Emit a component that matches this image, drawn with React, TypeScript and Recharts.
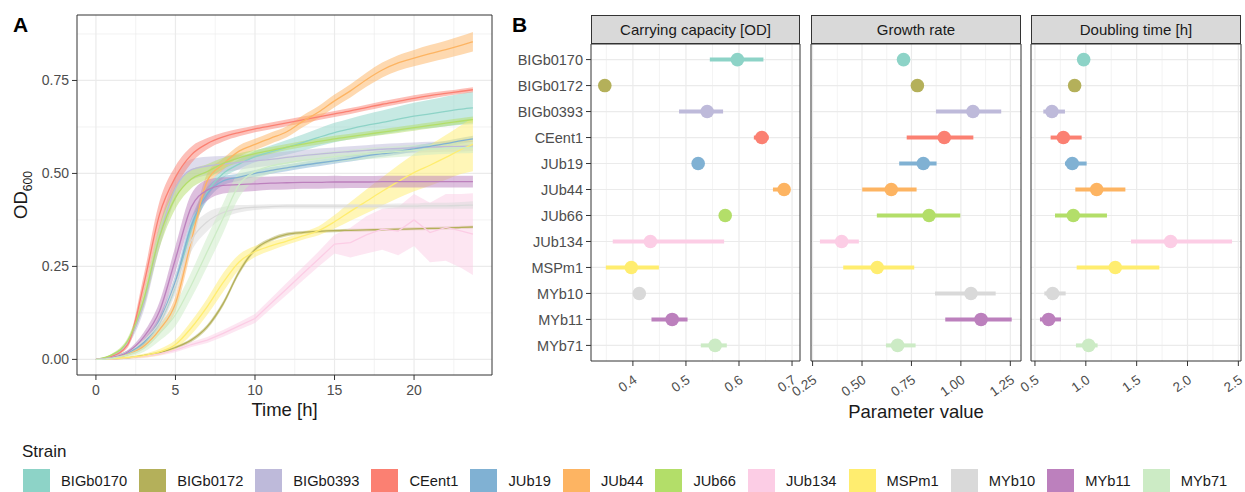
import React from "react"
import {
  Area,
  CartesianGrid,
  ComposedChart,
  ErrorBar,
  Line,
  ReferenceArea,
  Scatter,
  ScatterChart,
  XAxis,
  YAxis,
} from "recharts"

const STRAINS = [
  "BIGb0170", "BIGb0172", "BIGb0393", "CEent1", "JUb19", "JUb44",
  "JUb66", "JUb134", "MSPm1", "MYb10", "MYb11", "MYb71",
]
const COLORS = [
  "#8DD3C7", "#B4B05A", "#BEBADA", "#FB8072", "#80B1D3", "#FDB462",
  "#B3DE69", "#FCCDE5", "#FFED6F", "#D9D9D9", "#BC80BD", "#CCEBC5",
]

// time points of the growth curves [h]
const TIME_H = [0, 1, 2, 3, 4, 5, 6, 7, 8, 9, 10, 11, 12, 13, 14, 15, 16, 17, 18, 19, 20, 21, 22, 23, 23.7]

// mean OD600 and half width of the ribbon per strain
const OD_BIGb0170 = [0, 0.006, 0.02, 0.045, 0.1, 0.2, 0.35, 0.45, 0.5, 0.525, 0.545, 0.558, 0.57, 0.583, 0.597, 0.61, 0.62, 0.629, 0.637, 0.646, 0.654, 0.66, 0.667, 0.673, 0.676]
const SD_BIGb0170 = [0, 0.002, 0.004, 0.006, 0.01, 0.015, 0.02, 0.015, 0.012, 0.013, 0.015, 0.017, 0.02, 0.022, 0.024, 0.026, 0.028, 0.03, 0.032, 0.034, 0.036, 0.038, 0.04, 0.042, 0.044]
const OD_BIGb0172 = [0, 0.001, 0.004, 0.01, 0.018, 0.032, 0.052, 0.088, 0.15, 0.235, 0.295, 0.322, 0.336, 0.341, 0.344, 0.346, 0.347, 0.348, 0.349, 0.35, 0.351, 0.352, 0.353, 0.355, 0.356]
const SD_BIGb0172 = [0, 0.001, 0.002, 0.003, 0.004, 0.004, 0.005, 0.006, 0.007, 0.007, 0.006, 0.005, 0.005, 0.004, 0.004, 0.004, 0.004, 0.004, 0.004, 0.004, 0.004, 0.004, 0.004, 0.004, 0.004]
const OD_BIGb0393 = [0, 0.01, 0.045, 0.15, 0.33, 0.46, 0.51, 0.52, 0.525, 0.53, 0.534, 0.538, 0.543, 0.548, 0.552, 0.556, 0.559, 0.562, 0.565, 0.567, 0.569, 0.571, 0.572, 0.573, 0.574]
const SD_BIGb0393 = [0, 0.003, 0.008, 0.02, 0.03, 0.03, 0.028, 0.025, 0.022, 0.02, 0.018, 0.017, 0.016, 0.015, 0.015, 0.014, 0.014, 0.014, 0.014, 0.014, 0.014, 0.014, 0.014, 0.014, 0.014]
const OD_CEent1 = [0, 0.008, 0.04, 0.2, 0.39, 0.49, 0.55, 0.58, 0.598, 0.61, 0.62, 0.628, 0.636, 0.644, 0.652, 0.66, 0.668, 0.677, 0.686, 0.694, 0.702, 0.709, 0.715, 0.721, 0.725]
const SD_CEent1 = [0, 0.002, 0.008, 0.025, 0.035, 0.03, 0.022, 0.015, 0.012, 0.01, 0.009, 0.009, 0.009, 0.009, 0.008, 0.008, 0.008, 0.008, 0.008, 0.008, 0.008, 0.008, 0.007, 0.007, 0.007]
const OD_JUb19 = [0, 0.005, 0.018, 0.045, 0.105, 0.21, 0.36, 0.445, 0.48, 0.49, 0.5, 0.508, 0.515, 0.522, 0.528, 0.534, 0.54, 0.547, 0.553, 0.559, 0.566, 0.573, 0.58, 0.588, 0.593]
const SD_JUb19 = [0, 0.002, 0.004, 0.008, 0.012, 0.018, 0.02, 0.018, 0.012, 0.01, 0.009, 0.009, 0.009, 0.009, 0.009, 0.008, 0.008, 0.008, 0.008, 0.008, 0.008, 0.008, 0.008, 0.008, 0.008]
const OD_JUb44 = [0, 0.004, 0.013, 0.035, 0.08, 0.15, 0.32, 0.48, 0.525, 0.56, 0.578, 0.595, 0.612, 0.64, 0.665, 0.695, 0.722, 0.752, 0.778, 0.797, 0.81, 0.822, 0.833, 0.845, 0.854]
const SD_JUb44 = [0, 0.002, 0.004, 0.008, 0.012, 0.02, 0.025, 0.02, 0.015, 0.015, 0.015, 0.015, 0.015, 0.016, 0.016, 0.017, 0.018, 0.019, 0.02, 0.021, 0.022, 0.023, 0.024, 0.025, 0.026]
const OD_JUb66 = [0, 0.012, 0.05, 0.16, 0.33, 0.435, 0.485, 0.505, 0.527, 0.542, 0.553, 0.562, 0.571, 0.579, 0.586, 0.593, 0.599, 0.605, 0.611, 0.617, 0.623, 0.629, 0.635, 0.641, 0.645]
const SD_JUb66 = [0, 0.003, 0.008, 0.02, 0.03, 0.03, 0.025, 0.02, 0.015, 0.012, 0.01, 0.009, 0.008, 0.008, 0.008, 0.008, 0.008, 0.008, 0.008, 0.008, 0.008, 0.008, 0.008, 0.008, 0.008]
const OD_JUb134 = [0, 0.001, 0.004, 0.008, 0.015, 0.025, 0.04, 0.052, 0.07, 0.09, 0.11, 0.15, 0.19, 0.23, 0.27, 0.31, 0.314, 0.335, 0.35, 0.345, 0.375, 0.341, 0.355, 0.345, 0.337]
const SD_JUb134 = [0, 0.002, 0.003, 0.004, 0.005, 0.006, 0.007, 0.008, 0.009, 0.01, 0.012, 0.014, 0.016, 0.018, 0.02, 0.025, 0.04, 0.05, 0.055, 0.065, 0.07, 0.08, 0.09, 0.1, 0.11]
const OD_MSPm1 = [0, 0.002, 0.005, 0.01, 0.02, 0.04, 0.085, 0.142, 0.207, 0.262, 0.29, 0.305, 0.318, 0.332, 0.346, 0.37, 0.398, 0.425, 0.452, 0.478, 0.502, 0.522, 0.543, 0.565, 0.578]
const SD_MSPm1 = [0, 0.002, 0.003, 0.005, 0.008, 0.012, 0.018, 0.022, 0.025, 0.02, 0.015, 0.012, 0.01, 0.01, 0.012, 0.018, 0.025, 0.032, 0.038, 0.044, 0.05, 0.055, 0.06, 0.066, 0.072]
const OD_MYb10 = [0, 0.005, 0.02, 0.05, 0.1, 0.2, 0.32, 0.37, 0.395, 0.405, 0.409, 0.411, 0.412, 0.412, 0.412, 0.412, 0.412, 0.412, 0.412, 0.412, 0.412, 0.413, 0.413, 0.414, 0.415]
const SD_MYb10 = [0, 0.002, 0.004, 0.008, 0.015, 0.025, 0.03, 0.025, 0.015, 0.01, 0.007, 0.006, 0.006, 0.006, 0.006, 0.006, 0.006, 0.006, 0.006, 0.007, 0.007, 0.008, 0.008, 0.009, 0.01]
const OD_MYb11 = [0, 0.005, 0.02, 0.06, 0.13, 0.27, 0.41, 0.455, 0.468, 0.47, 0.472, 0.474, 0.475, 0.476, 0.476, 0.477, 0.477, 0.477, 0.478, 0.478, 0.478, 0.478, 0.478, 0.478, 0.478]
const SD_MYb11 = [0, 0.002, 0.005, 0.012, 0.025, 0.035, 0.035, 0.028, 0.022, 0.02, 0.019, 0.018, 0.018, 0.017, 0.017, 0.017, 0.016, 0.016, 0.016, 0.016, 0.016, 0.016, 0.016, 0.016, 0.016]
const OD_MYb71 = [0, 0.003, 0.012, 0.03, 0.07, 0.12, 0.2, 0.29, 0.38, 0.47, 0.505, 0.52, 0.528, 0.535, 0.54, 0.545, 0.549, 0.553, 0.556, 0.559, 0.562, 0.565, 0.567, 0.569, 0.57]
const SD_MYb71 = [0, 0.002, 0.005, 0.01, 0.02, 0.03, 0.035, 0.04, 0.04, 0.035, 0.025, 0.02, 0.018, 0.016, 0.015, 0.015, 0.015, 0.015, 0.015, 0.015, 0.015, 0.015, 0.015, 0.015, 0.015]

const OD_MEAN = [OD_BIGb0170, OD_BIGb0172, OD_BIGb0393, OD_CEent1, OD_JUb19, OD_JUb44, OD_JUb66, OD_JUb134, OD_MSPm1, OD_MYb10, OD_MYb11, OD_MYb71]
const OD_HALF = [SD_BIGb0170, SD_BIGb0172, SD_BIGb0393, SD_CEent1, SD_JUb19, SD_JUb44, SD_JUb66, SD_JUb134, SD_MSPm1, SD_MYb10, SD_MYb11, SD_MYb71]

// fitted parameters (estimate, lower, upper), same order as STRAINS
const CAP_EST = [0.597, 0.347, 0.54, 0.643, 0.523, 0.685, 0.574, 0.433, 0.397, 0.412, 0.474, 0.555]
const CAP_LO = [0.545, 0.344, 0.487, 0.628, 0.519, 0.664, 0.57, 0.362, 0.349, 0.409, 0.435, 0.528]
const CAP_HI = [0.646, 0.35, 0.57, 0.656, 0.527, 0.694, 0.578, 0.572, 0.449, 0.415, 0.503, 0.577]
const RATE_EST = [0.71, 0.78, 1.061, 0.916, 0.81, 0.648, 0.839, 0.397, 0.577, 1.051, 1.102, 0.68]
const RATE_LO = [0.7, 0.75, 0.874, 0.726, 0.688, 0.501, 0.575, 0.287, 0.405, 0.869, 0.921, 0.621]
const RATE_HI = [0.72, 0.81, 1.204, 1.063, 0.877, 0.776, 0.997, 0.484, 0.764, 1.176, 1.257, 0.771]
const DBL_EST = [0.979, 0.89, 0.667, 0.779, 0.867, 1.107, 0.877, 1.834, 1.29, 0.674, 0.634, 1.028]
const DBL_LO = [0.969, 0.86, 0.582, 0.654, 0.795, 0.897, 0.697, 1.444, 0.91, 0.592, 0.549, 0.903]
const DBL_HI = [0.989, 0.92, 0.795, 0.959, 1.008, 1.389, 1.208, 2.438, 1.723, 0.802, 0.756, 1.116]

const growthData = TIME_H.map((t, i) => {
  const row: any = { t }
  STRAINS.forEach((s, k) => {
    const m = OD_MEAN[k][i]
    const h = OD_HALF[k][i]
    row[s] = m
    row[s + "_band"] = [m - h, m + h]
  })
  return row
})

const FONT = "'Liberation Sans', Arial, Helvetica, sans-serif"
const TICK_COLOR = "#4D4D4D"
const GRID = "#EBEBEB"
const ROWS = STRAINS.map((_, i) => i)

function RotTick(props: any) {
  const { x, y, payload, digits } = props
  const px = x + 5
  const py = y + 14
  return (
    <text x={px} y={py} transform={`rotate(-35 ${px} ${py})`} textAnchor="end" fill={TICK_COLOR} fontSize={13.5} fontFamily={FONT}>
      {Number(payload.value).toFixed(digits)}
    </text>
  )
}

function GrowthPanel() {
  const xDom: [number, number] = [-1.19, 24.9]
  const yDom: [number, number] = [-0.042, 0.926]
  return (
    <div style={{ position: "absolute", left: 0, top: 0 }}>
      <ComposedChart width={500} height={420} data={growthData} margin={{ top: 15, right: 8, bottom: 0, left: 0 }}>
        <CartesianGrid stroke={GRID} strokeWidth={0.6} verticalValues={[2.5, 7.5, 12.5, 17.5, 22.5]} horizontalValues={[0.125, 0.375, 0.625, 0.875]} />
        <CartesianGrid stroke={GRID} strokeWidth={1.2} verticalValues={[0, 5, 10, 15, 20]} horizontalValues={[0, 0.25, 0.5, 0.75]} />
        <XAxis
          type="number"
          dataKey="t"
          domain={xDom}
          allowDataOverflow
          ticks={[0, 5, 10, 15, 20]}
          height={45}
          tickSize={5}
          tickMargin={5}
          axisLine={false}
          tickLine={{ stroke: "#333333" }}
          tick={{ fill: TICK_COLOR, fontSize: 14 }}
        />
        <YAxis
          type="number"
          domain={yDom}
          allowDataOverflow
          ticks={[0, 0.25, 0.5, 0.75]}
          tickFormatter={(v: number) => v.toFixed(2)}
          width={77}
          tickSize={5}
          tickMargin={3}
          axisLine={false}
          tickLine={{ stroke: "#333333" }}
          tick={{ fill: TICK_COLOR, fontSize: 14 }}
        />
        {STRAINS.map((s, k) => (
          <Area
            key={s + "_band"}
            dataKey={s + "_band"}
            type={s === "JUb134" ? "linear" : "monotone"}
            stroke="none"
            fill={COLORS[k]}
            fillOpacity={0.5}
            isAnimationActive={false}
          />
        ))}
        {STRAINS.map((s, k) => (
          <Line
            key={s}
            dataKey={s}
            type={s === "JUb134" ? "linear" : "monotone"}
            stroke={COLORS[k]}
            strokeWidth={1.3}
            dot={false}
            isAnimationActive={false}
          />
        ))}
        <ReferenceArea x1={xDom[0]} x2={xDom[1]} y1={yDom[0]} y2={yDom[1]} fill="none" stroke="#333333" strokeWidth={1} ifOverflow="visible" />
      </ComposedChart>
    </div>
  )
}

interface FacetProps {
  left: number
  width: number
  yWidth: number
  showY: boolean
  title: string
  est: number[]
  lo: number[]
  hi: number[]
  domain: [number, number]
  ticks: number[]
  minor: number[]
  digits: number
}

function Facet({ left, width, yWidth, showY, title, est, lo, hi, domain, ticks, minor, digits }: FacetProps) {
  const yDom: [number, number] = [-0.6, 11.6]
  return (
    <>
      <div
        style={{
          position: "absolute",
          left: left + yWidth,
          top: 15,
          width: width - yWidth,
          height: 29,
          boxSizing: "border-box",
          border: "1px solid #333333",
          background: "#D9D9D9",
          color: "#1A1A1A",
          fontSize: 15,
          lineHeight: "27px",
          textAlign: "center",
        }}
      >
        {title}
      </div>
      <div style={{ position: "absolute", left, top: 0 }}>
        <ScatterChart width={width} height={401} margin={{ top: 44, right: 0, bottom: 0, left: 0 }}>
          <CartesianGrid stroke={GRID} strokeWidth={0.6} horizontal={false} verticalValues={minor} />
          <CartesianGrid stroke={GRID} strokeWidth={1.2} verticalValues={ticks} horizontalValues={ROWS} />
          <XAxis
            type="number"
            dataKey="x"
            domain={domain}
            allowDataOverflow
            ticks={ticks}
            interval={0}
            height={40}
            tickSize={5}
            tickMargin={2}
            axisLine={false}
            tickLine={{ stroke: "#333333" }}
            tick={<RotTick digits={digits} />}
          />
          <YAxis
            type="number"
            dataKey="y"
            domain={yDom}
            allowDataOverflow
            reversed
            ticks={ROWS}
            interval={0}
            tickFormatter={(i: number) => STRAINS[i] ?? ""}
            width={yWidth}
            hide={!showY}
            tickSize={5}
            tickMargin={3}
            axisLine={false}
            tickLine={{ stroke: "#333333" }}
            tick={{ fill: TICK_COLOR, fontSize: 14.5 }}
          />
          {STRAINS.map((s, k) => (
            <Scatter
              key={s}
              name={s}
              data={[{ x: est[k], y: k, err: [est[k] - lo[k], hi[k] - est[k]] }]}
              fill={COLORS[k]}
              isAnimationActive={false}
              shape={(p: any) => <circle cx={p.cx} cy={p.cy} r={6.8} fill={COLORS[k]} />}
            >
              <ErrorBar dataKey="err" direction="x" width={0} strokeWidth={4} stroke={COLORS[k]} isAnimationActive={false} />
            </Scatter>
          ))}
          <ReferenceArea x1={domain[0]} x2={domain[1]} y1={yDom[0]} y2={yDom[1]} fill="none" stroke="#333333" strokeWidth={1} ifOverflow="visible" />
        </ScatterChart>
      </div>
    </>
  )
}

function StrainLegend() {
  return (
    <>
      <div style={{ position: "absolute", left: 22, top: 451, transform: "translateY(-50%)", fontSize: 17, lineHeight: 1, color: "#1A1A1A" }}>
        Strain
      </div>
      <div style={{ position: "absolute", left: 23, top: 469, display: "flex", alignItems: "center" }}>
        {STRAINS.map((s, k) => (
          <div key={s} style={{ display: "flex", alignItems: "center", marginRight: 12 }}>
            <div style={{ width: 27, height: 24, background: COLORS[k] }} />
            <span style={{ marginLeft: 11, fontSize: 14.7, color: "#1A1A1A", whiteSpace: "nowrap" }}>{s}</span>
          </div>
        ))}
      </div>
    </>
  )
}

export default function App() {
  return (
    <div style={{ position: "absolute", left: 0, top: 0, width: 1245, height: 492, overflow: "hidden", background: "#FFFFFF", fontFamily: FONT }}>
      <style>{".recharts-surface{overflow:visible}"}</style>
      <GrowthPanel />
      <div style={{ position: "absolute", left: 13, top: 14, fontSize: 21, fontWeight: "bold", lineHeight: 1 }}>A</div>
      <div style={{ position: "absolute", left: 512, top: 14, fontSize: 21, fontWeight: "bold", lineHeight: 1 }}>B</div>
      <div
        style={{
          position: "absolute",
          left: 23,
          top: 195,
          transform: "translate(-50%, -50%) rotate(-90deg)",
          fontSize: 18.5,
          lineHeight: 1,
          whiteSpace: "nowrap",
          color: "#1A1A1A",
        }}
      >
        OD<sub style={{ fontSize: 12 }}>600</sub>
      </div>
      <div style={{ position: "absolute", left: 284.5, top: 410, transform: "translate(-50%, -50%)", fontSize: 18.5, lineHeight: 1, whiteSpace: "nowrap", color: "#1A1A1A" }}>
        Time [h]
      </div>

      <Facet left={500} width={300} yWidth={91} showY title="Carrying capacity [OD]" est={CAP_EST} lo={CAP_LO} hi={CAP_HI}
        domain={[0.321, 0.715]} ticks={[0.4, 0.5, 0.6, 0.7]} minor={[0.35, 0.45, 0.55, 0.65]} digits={1} />
      <Facet left={811} width={210} yWidth={0} showY={false} title="Growth rate" est={RATE_EST} lo={RATE_LO} hi={RATE_HI}
        domain={[0.242, 1.304]} ticks={[0.25, 0.5, 0.75, 1.0, 1.25]} minor={[0.375, 0.625, 0.875, 1.125]} digits={2} />
      <Facet left={1031} width={210} yWidth={0} showY={false} title="Doubling time [h]" est={DBL_EST} lo={DBL_LO} hi={DBL_HI}
        domain={[0.461, 2.526]} ticks={[0.5, 1.0, 1.5, 2.0, 2.5]} minor={[0.75, 1.25, 1.75, 2.25]} digits={1} />

      <div style={{ position: "absolute", left: 916, top: 411.5, transform: "translate(-50%, -50%)", fontSize: 18.5, lineHeight: 1, whiteSpace: "nowrap", color: "#1A1A1A" }}>
        Parameter value
      </div>
      <StrainLegend />
    </div>
  )
}
